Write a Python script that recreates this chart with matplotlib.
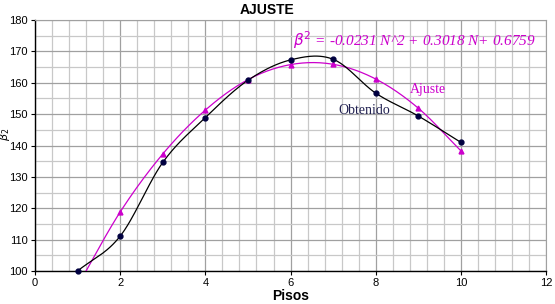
import numpy as np
import matplotlib
matplotlib.use("Agg")
import matplotlib.pyplot as plt
from matplotlib.ticker import MultipleLocator

pisos = [1, 2, 3, 4, 5, 6, 7, 8, 9, 10]
obtenido = [100.0, 111.1, 134.6, 148.9, 160.8, 167.3, 167.5, 156.7, 149.4, 141.0]
ajuste = [95.2, 118.8, 137.3, 151.3, 161.0, 165.8, 165.9, 161.2, 151.9, 138.3]
title = "AJUSTE"
xlabel = "Pisos"
equation = r"$\beta^2$ = -0.0231 N^2 + 0.3018 N+ 0.6759"


def smooth(x, y, n=30):
    # Catmull-Rom style smoothing (like Excel smoothed lines), drawing only
    x = np.asarray(x, float); y = np.asarray(y, float)
    P = np.column_stack([x, y])
    P = np.vstack([P[0] - (P[1] - P[0]), P, P[-1] + (P[-1] - P[-2])])
    out = []
    for i in range(1, len(P) - 2):
        p0, p1, p2, p3 = P[i - 1], P[i], P[i + 1], P[i + 2]
        t = np.linspace(0, 1, n)[:, None]
        c = 0.5 * ((2 * p1) + (-p0 + p2) * t + (2 * p0 - 5 * p1 + 4 * p2 - p3) * t ** 2
                   + (-p0 + 3 * p1 - 3 * p2 + p3) * t ** 3)
        out.append(c)
    c = np.vstack(out)
    return c[:, 0], c[:, 1]


plt.rcParams['font.family'] = ['Liberation Sans', 'DejaVu Sans']
fig = plt.figure(figsize=(5.55, 3.04), dpi=100)
ax = fig.add_axes([0.063, 0.1086, 0.921, 0.8254])

ax.set_xlim(0, 12)
ax.set_ylim(100, 180)
ax.xaxis.set_major_locator(MultipleLocator(2))
ax.xaxis.set_minor_locator(MultipleLocator(0.4))
ax.yaxis.set_major_locator(MultipleLocator(10))
ax.yaxis.set_minor_locator(MultipleLocator(5))
ax.grid(True, which='major', color='#a0a0a0', lw=0.9)
ax.grid(True, which='minor', color='#c8c8c8', lw=0.9)
ax.set_axisbelow(True)
ax.tick_params(which='minor', length=0)
ax.tick_params(which='major', length=3, labelsize=8, pad=2)
for s in ['top', 'right']:
    ax.spines[s].set_color('#a0a0a0')
for s in ['left', 'bottom']:
    ax.spines[s].set_color('black')
    ax.spines[s].set_linewidth(1.0)

cm = '#cc00cc'
sx, sy = smooth(pisos, ajuste)
ax.plot(sx, sy, color=cm, lw=0.9, zorder=3)
ax.plot(pisos, ajuste, ls='none', marker='^', ms=3.5, color=cm, zorder=4)
ox, oy = smooth(pisos, obtenido)
ax.plot(ox, oy, color='black', lw=0.9, zorder=3)
ax.plot(pisos, obtenido, ls='none', marker='o', ms=3.5, color='#000040', zorder=5, clip_on=False)

fig.text(267 / 555, 1 - 10 / 304, title, fontsize=10, fontweight='bold', ha='center', va='center')
ax.set_xlabel(xlabel, fontsize=10, fontweight='bold', labelpad=1)
fig.text(5.5 / 555, 1 - 134 / 304, r"$\beta_2$", fontsize=8, rotation=90, ha='center', va='center')

ax.text(6.05, 173.6, equation, color=cm, fontsize=11, style='italic',
        family=['Liberation Serif', 'DejaVu Serif'], va='center', ha='left')
ax.text(8.8, 157.8, "Ajuste", color=cm, fontsize=10,
        family=['Liberation Serif', 'DejaVu Serif'], va='center', ha='left')
ax.text(7.12, 151.3, "Obtenido", color='#202050', fontsize=10,
        family=['Liberation Serif', 'DejaVu Serif'], va='center', ha='left')

fig.savefig('out.png', dpi=100)
